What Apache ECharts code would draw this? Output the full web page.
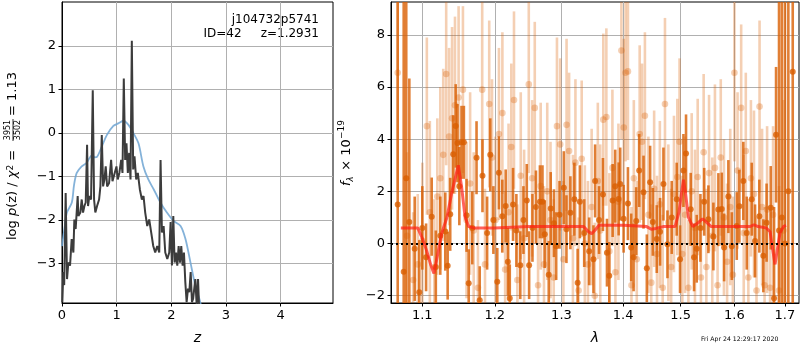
<!DOCTYPE html>
<html>
<head>
<meta charset="utf-8">
<script src="https://cdn.jsdelivr.net/npm/echarts@6/dist/echarts.min.js"></script>
<style>
html, body { margin: 0; padding: 0; background: #fff; }
#main { width: 800px; height: 350px; }
</style>
</head>
<body>
<div id="main"></div>
<script>
// p(z) panel
var pzZ = [0.006,0.024,0.04,0.067,0.092,0.116,0.147,0.177,0.208,0.226,0.25,0.287,0.30,0.336,0.361,0.385,0.41,0.434,0.459,0.477,0.50,0.532,0.563,0.587,0.61,0.642,0.679,0.703,0.728,0.752,0.777,0.80,0.826,0.862,0.899,0.924,0.96,0.997,1.02,1.05,1.083,1.107,1.131,1.156,1.18,1.205,1.229,1.254,1.278,1.303,1.327,1.358,1.388,1.425,1.462,1.492,1.523,1.56,1.596,1.633,1.67,1.706,1.743,1.78,1.804,1.829,1.86,1.89,1.927,1.963,1.988,2.012,2.037,2.061,2.086,2.11,2.135,2.159,2.183,2.208,2.232,2.257,2.281,2.306,2.33,2.355,2.379,2.40,2.44,2.465,2.49,2.51];
var pzLog = [-3.89,-3.2,-3.5,-1.38,-3.36,-2.98,-3.05,-2.44,-2.75,-1.99,-2.21,-1.45,-1.91,-1.83,-1.53,-1.83,-1.68,-1.6,-0.27,-1.68,-1.45,-1.53,0.98,-1.53,-1.83,-1.68,-1.53,-1.23,-0.05,-1.23,-1.07,-0.77,-1.23,-1.15,-0.62,-1.11,-1.07,-0.77,-1.07,-0.92,-0.62,-0.92,1.25,-0.62,-0.24,-0.92,-0.46,-1.07,2.12,-0.84,-0.54,-1.07,-0.92,-1.3,-1.53,-1.45,-1.83,-2.14,-1.99,-2.29,-2.6,-2.75,-2.6,-2.75,-0.62,-2.29,-2.14,-2.75,-2.9,-2.75,-2.05,-3.05,-1.91,-2.98,-2.75,-3.05,-2.6,-2.98,-2.6,-3.05,-2.75,-3.43,-3.89,-3.58,-3.66,-3.2,-3.89,-3.81,-3.36,-3.96,-3.36,-4.04];
var priorZ = [0.0,0.05,0.09,0.18,0.22,0.27,0.36,0.45,0.545,0.6,0.64,0.73,0.82,0.94,1.03,1.125,1.22,1.31,1.40,1.49,1.58,1.68,1.80,1.92,2.04,2.17,2.26,2.35,2.44,2.53,2.6];
var priorLog = [-2.6,-2.15,-1.83,-1.6,-1.2,-0.92,-0.77,-0.69,-0.52,-0.56,-0.55,-0.31,-0.05,0.16,0.22,0.28,0.18,-0.01,-0.24,-0.77,-1.07,-1.3,-1.6,-1.83,-2.02,-2.14,-2.44,-2.97,-3.51,-3.89,-4.3];
var zTicks = [0, 1, 2, 3, 4];
var pzTicks = [-3, -2, -1, 0, 1, 2];

// spectrum panel
var darkLam = [1.068,1.0757,1.079,1.083,1.090,1.096,1.100,1.105,1.1125,1.118,1.124,1.1308,1.134,1.1375,1.1416,1.145,1.1474,1.150,1.153,1.1563,1.160,1.163,1.168,1.174,1.1785,1.1824,1.189,1.1935,1.198,1.2036,1.206,1.2109,1.2158,1.219,1.2218,1.2266,1.2315,1.2373,1.242,1.247,1.2505,1.2555,1.2608,1.2668,1.2707,1.2742,1.2803,1.2833,1.2883,1.2918,1.297,1.3037,1.3078,1.314,1.3203,1.3255,1.3291,1.336,1.344,1.3509,1.3536,1.360,1.3664,1.373,1.3768,1.3824,1.3867,1.3924,1.395,1.4007,1.408,1.4135,1.4176,1.422,1.4271,1.4346,1.4403,1.446,1.4507,1.4576,1.4634,1.4693,1.4764,1.484,1.4929,1.4989,1.505,1.5097,1.5182,1.5243,1.5292,1.536,1.543,1.5508,1.5601,1.5695,1.5759,1.5803,1.5884,1.595,1.6045,1.6095,1.6172,1.6238,1.6336,1.6401,1.6486,1.6565,1.663,1.6713,1.678,1.682,1.688,1.6936,1.700,1.707,1.716];
var darkFlux = [1.5,-1.08,2.5,0.83,-0.2,-1.87,0.6,-0.53,1.03,-0.9,0.3,0.46,-0.85,1.12,3.42,4.51,3.85,2.2,3.88,3.88,1.08,-1.52,0.6,3.29,-2.17,2.6,0.4,3.4,0.9,-1.47,2.71,1.05,1.44,-0.7,-2.1,1.5,0.5,-0.83,0.9,1.65,-0.83,0.6,1.4,1.6,1.6,0.36,-1.2,1.34,0.78,-0.1,1.1,2.14,0.55,1.18,1.7,-1.5,1.6,0.4,-0.3,-0.6,2.4,0.9,1.88,-0.35,-1.24,1.65,2.2,1.71,2.28,0.95,1.53,-0.15,-0.53,0.86,2.8,1.97,-0.95,2.35,0.83,0.17,0.45,2.28,-0.03,1.0,1.7,-0.6,2.8,3.45,1.31,-0.53,-0.2,0.6,1.6,0.93,0.27,1.3,1.32,-0.15,1.8,-0.1,0.67,1.43,2.4,0.4,1.7,0.1,1.05,-0.47,0.8,1.37,-2.1,4.17,0.5,1.0,0.0,2.0,6.59];
var darkErr = [12,12,12,5.5,2.0,2.0,1.6,1.3,1.5,1.4,1.5,1.5,1.3,1.4,1.5,1.6,1.5,1.5,1.4,1.4,1.4,1.3,1.4,1.4,1.3,1.4,1.4,1.4,1.3,1.3,1.4,1.4,1.4,1.3,1.3,1.4,1.4,1.3,1.3,1.4,1.3,1.3,1.4,1.4,1.4,1.3,1.3,1.4,1.3,1.3,1.3,1.4,1.3,1.4,1.4,1.3,1.4,1.3,1.3,1.3,1.4,1.3,1.4,1.3,1.3,1.4,1.4,1.4,1.4,1.3,1.4,1.3,1.3,1.3,1.4,1.4,1.3,1.4,1.3,1.3,1.3,1.4,1.3,1.4,1.4,1.3,1.4,1.5,1.4,1.3,1.3,1.3,1.3,1.3,1.3,1.4,1.4,1.3,1.4,1.3,1.3,1.4,1.5,1.4,1.4,1.4,1.4,1.4,1.5,1.6,3.5,2.6,9,12,12,12,12];
var lightLam = [1.068,1.080,1.088,1.094,1.100,1.106,1.110,1.116,1.120,1.124,1.128,1.132,1.136,1.140,1.144,1.149,1.155,1.160,1.165,1.170,1.176,1.182,1.186,1.192,1.196,1.201,1.206,1.211,1.215,1.220,1.224,1.228,1.233,1.238,1.243,1.250,1.255,1.259,1.264,1.268,1.273,1.278,1.283,1.288,1.293,1.298,1.303,1.308,1.312,1.318,1.322,1.327,1.332,1.337,1.342,1.348,1.353,1.358,1.362,1.367,1.372,1.377,1.382,1.387,1.392,1.397,1.401,1.404,1.408,1.414,1.418,1.423,1.428,1.432,1.437,1.443,1.448,1.453,1.458,1.463,1.468,1.472,1.478,1.483,1.488,1.494,1.498,1.503,1.508,1.514,1.520,1.526,1.531,1.537,1.542,1.547,1.552,1.558,1.563,1.568,1.574,1.580,1.586,1.592,1.597,1.600,1.606,1.613,1.618,1.622,1.627,1.632,1.638,1.643,1.649,1.654,1.659,1.664,1.670,1.676,1.688,1.697];
var lightFlux = [6.55,0.3,-1.4,-0.8,0.1,4.5,1.2,-0.9,1.8,2.5,3.4,6.5,4.1,4.8,5.3,5.6,5.9,0.9,2.3,0.5,-1.7,5.9,-0.8,5.35,3.3,0.9,4.2,5.0,-1.0,1.2,3.7,5.5,-1.4,2.6,0.2,6.1,2.5,5.2,-1.6,2.2,-0.8,2.0,0.9,-1.3,4.5,3.8,-0.6,4.55,3.55,0.2,3.1,-1.8,3.25,0.0,-0.8,1.4,-2.0,2.4,0.5,4.75,4.85,-0.3,2.9,-1.1,1.6,7.4,4.45,6.55,6.6,-1.6,2.5,-0.6,4.2,3.9,4.9,1.1,-1.5,2.1,-0.4,1.5,-1.7,5.35,0.8,-0.9,1.9,2.55,3.9,-0.4,1.1,-1.7,2.0,0.6,2.55,-1.3,3.5,-0.9,2.7,0.3,2.9,-1.6,3.3,1.0,-0.7,1.4,-1.2,6.55,2.8,5.2,0.4,3.55,-1.3,2.5,1.9,-1.8,5.25,1.4,-1.6,1.3,-1.7,1.1,-1.8,0.5];
var lightErr = [4.5,3.2,2.6,2.7,3.0,3.4,3.5,2.6,3.0,3.5,3.3,3.5,3.4,3.5,3.4,3.5,3.2,3.0,3.5,3.0,2.6,3.4,2.9,3.2,3.0,3.2,3.3,3.1,3.0,3.4,3.2,3.4,2.9,3.2,3.4,3.4,3.0,3.3,2.9,3.2,3.0,3.4,3.0,3.0,3.4,3.3,3.0,3.3,3.0,3.2,3.2,2.8,3.0,3.0,3.2,3.0,2.8,3.0,3.3,3.3,3.4,3.0,3.0,3.2,3.0,3.4,3.4,3.4,3.4,3.0,3.0,3.0,3.4,3.0,3.2,3.0,3.0,3.0,3.0,3.2,2.8,3.3,3.0,3.0,3.0,3.0,3.2,3.0,3.0,2.6,3.0,3.0,3.0,3.0,3.0,3.0,3.0,3.0,3.2,2.8,3.0,3.0,3.0,3.0,3.0,3.4,3.0,3.2,3.0,3.0,3.0,3.0,3.2,2.8,3.3,3.0,3.0,3.2,3.0,3.4,4.0,5.0];
var modelLam = [1.072,1.094,1.100,1.106,1.111,1.1155,1.120,1.126,1.133,1.140,1.1486,1.153,1.158,1.163,1.170,1.200,1.250,1.300,1.335,1.343,1.348,1.353,1.360,1.400,1.440,1.448,1.456,1.470,1.490,1.497,1.502,1.505,1.509,1.514,1.522,1.532,1.540,1.548,1.556,1.600,1.630,1.638,1.646,1.662,1.670,1.675,1.680,1.684,1.690,1.697,1.702];
var modelFlux = [0.6,0.6,0.2,-0.3,-0.8,-1.15,-0.5,0.4,1.0,2.0,3.0,2.2,1.0,0.65,0.6,0.6,0.65,0.65,0.65,0.45,0.38,0.5,0.7,0.7,0.65,0.55,0.58,0.65,0.65,1.2,2.0,2.45,1.9,1.0,0.65,0.8,0.95,0.8,0.65,0.65,0.65,0.72,0.65,0.6,0.45,-0.2,-0.8,-0.3,0.4,0.65,0.7];
var lamTicks = [1.1, 1.2, 1.3, 1.4, 1.5, 1.6, 1.7];
var fluxTicks = [-2, 0, 2, 4, 6, 8];

var FONT = 'DejaVu Sans';
var ORANGE = '217,95,2';

function minus(v) { return String(v).replace('-', '\u2212'); }

function axisParts(ticks, fmt) {
    return {
        axisLine: { show: true, onZero: false, lineStyle: { color: '#000', width: 1 } },
        axisTick: { show: true, inside: false, length: 3.5, customValues: ticks, lineStyle: { color: '#000', width: 1 } },
        axisLabel: { customValues: ticks, color: '#000', fontSize: 13, fontFamily: FONT, margin: 6, formatter: fmt },
        splitLine: { show: true, lineStyle: { color: '#b0b0b0', width: 1 } }
    };
}

function zip(a, b) {
    var out = [];
    for (var i = 0; i < a.length; i++) out.push([a[i], b[i]]);
    return out;
}

function errData(lam, flux, err) {
    var out = [];
    for (var i = 0; i < lam.length; i++) out.push([Math.log(lam[i]), flux[i], err[i]]);
    return out;
}

function errRender(alpha, r) {
    var col = 'rgba(' + ORANGE + ',' + alpha + ')';
    return function (params, api) {
        var x = api.value(0), y = api.value(1), e = api.value(2);
        var top = api.coord([x, y + e]);
        var bot = api.coord([x, y - e]);
        var c = api.coord([x, y]);
        return {
            type: 'group',
            children: [
                { type: 'line', shape: { x1: top[0], y1: top[1], x2: bot[0], y2: bot[1] }, style: { stroke: col, lineWidth: 2.6 } },
                { type: 'circle', shape: { cx: c[0], cy: c[1], r: r }, style: { fill: col } }
            ]
        };
    };
}

var lnFmt = function (v) { return Math.exp(v).toFixed(1); };

var xz = axisParts(zTicks, minus);
var yz = axisParts(pzTicks, minus);
var xl = axisParts(lamTicks.map(Math.log), lnFmt);
var yl = axisParts(fluxTicks, minus);

var myChart = echarts.init(document.getElementById('main'));
myChart.setOption({
    animation: false,
    backgroundColor: '#fff',
    grid: [
        { left: 62, top: 2, width: 271, height: 302, show: true, borderColor: '#000', borderWidth: 1 },
        { left: 391, top: 2, width: 408, height: 302, show: true, borderColor: '#000', borderWidth: 1 }
    ],
    xAxis: [
        Object.assign({ type: 'value', gridIndex: 0, min: 0, max: 4.96,
            name: 'z', nameLocation: 'middle', nameGap: 28,
            nameTextStyle: { fontSize: 14, fontStyle: 'italic', fontFamily: FONT, color: '#000' } }, xz),
        Object.assign({ type: 'value', gridIndex: 1, min: 0.05773, max: 0.54753,
            name: '\u03bb', nameLocation: 'middle', nameGap: 28,
            nameTextStyle: { fontSize: 14, fontStyle: 'italic', fontFamily: FONT, color: '#000' } }, xl)
    ],
    yAxis: [
        Object.assign({ type: 'value', gridIndex: 0, min: -3.91, max: 3.01 }, yz),
        Object.assign({ type: 'value', gridIndex: 1, min: -2.28, max: 9.26 }, yl)
    ],
    graphic: [
        {
            type: 'group', x: 13, y: 240, rotation: Math.PI / 2,
            children: [
                { type: 'text', x: 0, y: 0, style: {
                    text: '{n|log }{i|p}{n|(z) / }{i|\u03c7}{s|2}{n| =}',
                    align: 'left', verticalAlign: 'middle',
                    rich: {
                        n: { fontSize: 13, fontFamily: FONT, fill: '#000' },
                        i: { fontSize: 13, fontFamily: FONT, fontStyle: 'italic', fill: '#000' },
                        s: { fontSize: 9, fontFamily: FONT, fill: '#000', verticalAlign: 'top' }
                    } } },
                { type: 'text', x: 110, y: -5, style: { text: '3951', fontSize: 8, fontFamily: FONT, fill: '#000', align: 'center', verticalAlign: 'middle' } },
                { type: 'line', shape: { x1: 99, y1: 0, x2: 121, y2: 0 }, style: { stroke: '#000', lineWidth: 0.8 } },
                { type: 'text', x: 110, y: 5, style: { text: '3502', fontSize: 8, fontFamily: FONT, fill: '#000', align: 'center', verticalAlign: 'middle' } },
                { type: 'text', x: 124, y: 0, style: { text: '= 1.13', fontSize: 13, fontFamily: FONT, fill: '#000', align: 'left', verticalAlign: 'middle' } }
            ]
        },
        {
            type: 'group', x: 347, y: 186, rotation: Math.PI / 2,
            children: [
                { type: 'text', x: 0, y: 0, style: { text: 'f', fontSize: 13, fontStyle: 'italic', fontFamily: FONT, fill: '#000', align: 'left', verticalAlign: 'middle' } },
                { type: 'text', x: 4.5, y: 4, style: { text: '\u03bb', fontSize: 8.5, fontStyle: 'italic', fontFamily: FONT, fill: '#000', align: 'left', verticalAlign: 'middle' } },
                { type: 'text', x: 11, y: 0, style: { text: ' \u00d7 10', fontSize: 13, fontFamily: FONT, fill: '#000', align: 'left', verticalAlign: 'middle' } },
                { type: 'text', x: 47, y: -5, style: { text: '\u221219', fontSize: 9, fontFamily: FONT, fill: '#000', align: 'left', verticalAlign: 'middle' } }
            ]
        },
        { type: 'text', x: 319, y: 20, style: { text: 'j104732p5741', fontSize: 12, fontFamily: FONT, fill: '#000', align: 'right', verticalAlign: 'middle' } },
        { type: 'text', x: 319, y: 34, style: { text: 'ID=42     z=1.2931', fontSize: 12, fontFamily: FONT, fill: '#000', align: 'right', verticalAlign: 'middle' } },
        { type: 'text', x: 701, y: 339, style: { text: 'Fri Apr 24 12:29:17 2020', fontSize: 6.2, fontFamily: FONT, fill: '#000', align: 'left', verticalAlign: 'middle' } }
    ],
    series: [
        {
            type: 'line', xAxisIndex: 0, yAxisIndex: 0, data: zip(priorZ, priorLog),
            smooth: 0.3, showSymbol: false, clip: true,
            lineStyle: { color: 'rgba(110,165,210,0.85)', width: 1.8 }
        },
        {
            type: 'line', xAxisIndex: 0, yAxisIndex: 0, data: zip(pzZ, pzLog),
            showSymbol: false, clip: true,
            lineStyle: { color: '#3c3c3c', width: 2 }
        },
        {
            type: 'custom', xAxisIndex: 1, yAxisIndex: 1, clip: true,
            renderItem: errRender(0.3, 3.3), data: errData(lightLam, lightFlux, lightErr)
        },
        {
            type: 'custom', xAxisIndex: 1, yAxisIndex: 1, clip: true,
            renderItem: errRender(0.8, 3.0), data: errData(darkLam, darkFlux, darkErr)
        },
        {
            type: 'line', xAxisIndex: 1, yAxisIndex: 1, showSymbol: false, clip: true,
            data: zip(modelLam.map(Math.log), modelFlux),
            lineStyle: { color: 'rgba(255,30,20,0.7)', width: 3 },
            markLine: {
                silent: true, symbol: ['none', 'none'], label: { show: false },
                lineStyle: { color: '#000', type: [2, 3], width: 2 },
                data: [{ yAxis: 0 }]
            }
        }
    ]
});
</script>
</body>
</html>
